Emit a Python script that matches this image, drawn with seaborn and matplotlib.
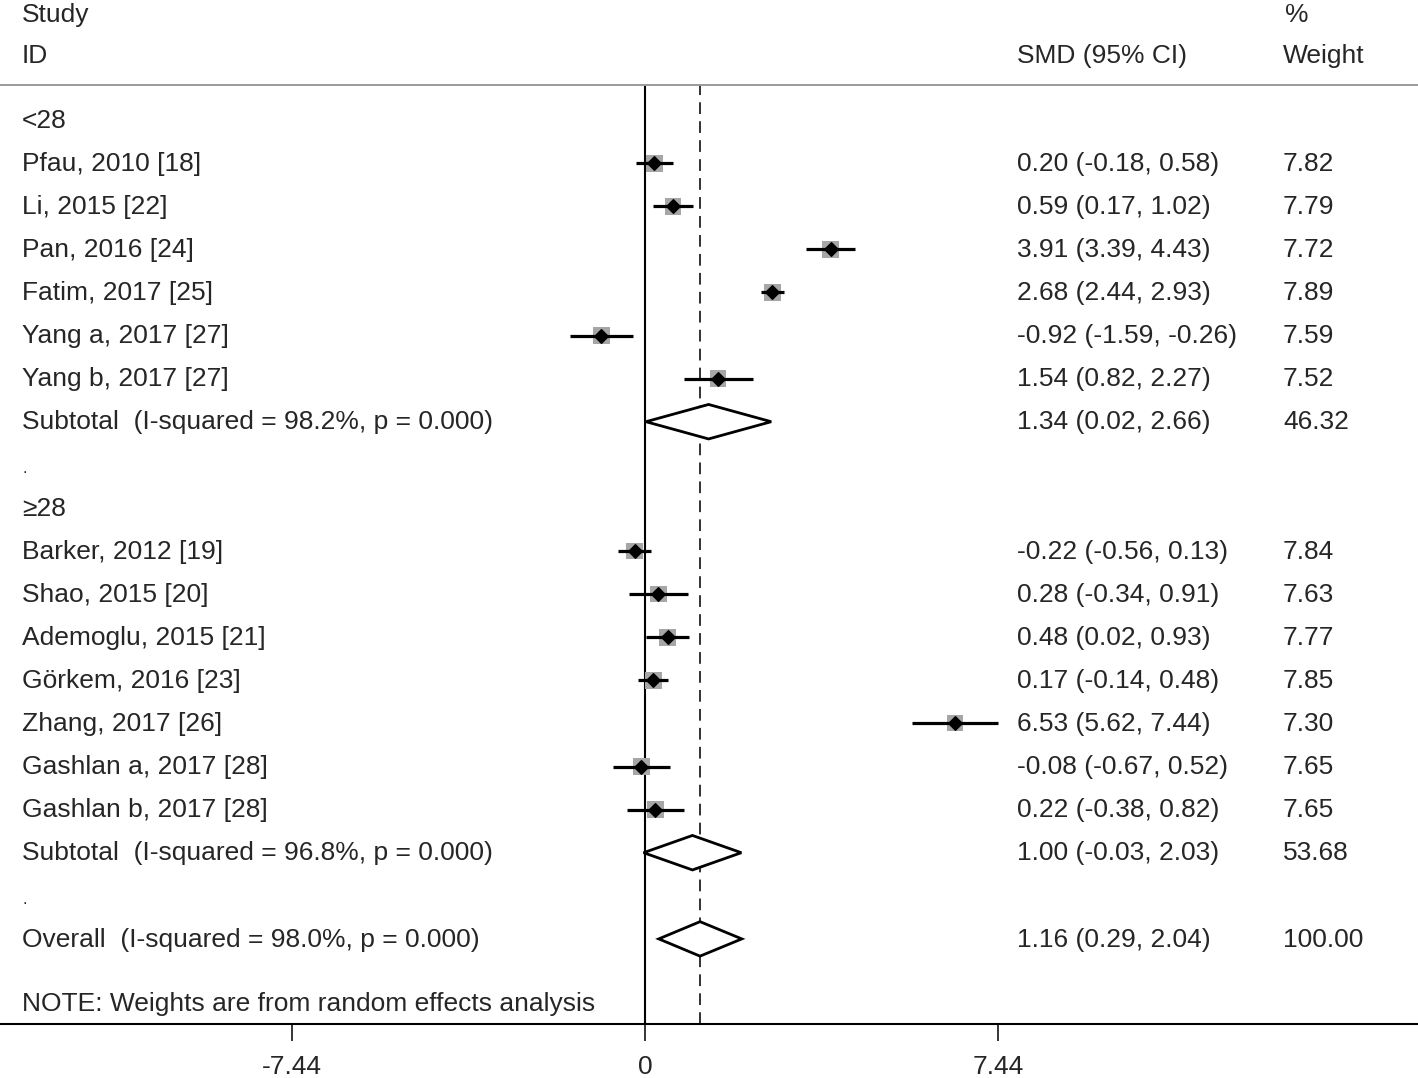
import numpy as np
import pandas as pd
import matplotlib.pyplot as plt
import seaborn as sns

# study-level data
groups = ["<28", "≥28"]
studies_lt28 = ["Pfau, 2010 [18]", "Li, 2015 [22]", "Pan, 2016 [24]", "Fatim, 2017 [25]",
                "Yang a, 2017 [27]", "Yang b, 2017 [27]"]
smd_lt28 = [0.20, 0.59, 3.91, 2.68, -0.92, 1.54]
lo_lt28 = [-0.18, 0.17, 3.39, 2.44, -1.59, 0.82]
hi_lt28 = [0.58, 1.02, 4.43, 2.93, -0.26, 2.27]
w_lt28 = [7.82, 7.79, 7.72, 7.89, 7.59, 7.52]

studies_ge28 = ["Barker, 2012 [19]", "Shao, 2015 [20]", "Ademoglu, 2015 [21]", "Görkem, 2016 [23]",
                "Zhang, 2017 [26]", "Gashlan a, 2017 [28]", "Gashlan b, 2017 [28]"]
smd_ge28 = [-0.22, 0.28, 0.48, 0.17, 6.53, -0.08, 0.22]
lo_ge28 = [-0.56, -0.34, 0.02, -0.14, 5.62, -0.67, -0.38]
hi_ge28 = [0.13, 0.91, 0.93, 0.48, 7.44, 0.52, 0.82]
w_ge28 = [7.84, 7.63, 7.77, 7.85, 7.30, 7.65, 7.65]

subtotal_labels = ["Subtotal  (I-squared = 98.2%, p = 0.000)", "Subtotal  (I-squared = 96.8%, p = 0.000)"]
subtotal_smd = [1.34, 1.00]
subtotal_lo = [0.02, -0.03]
subtotal_hi = [2.66, 2.03]
subtotal_w = [46.32, 53.68]

overall_label = "Overall  (I-squared = 98.0%, p = 0.000)"
overall_smd, overall_lo, overall_hi, overall_w = 1.16, 0.29, 2.04, 100.00

tick_vals = [-7.44, 0, 7.44]
tick_labels = ["-7.44", "0", "7.44"]

# build rows
rows = []
r = 0
rows.append(dict(row=r, kind="group", label=groups[0])); r += 1
for s, m, l, h, w in zip(studies_lt28, smd_lt28, lo_lt28, hi_lt28, w_lt28):
    rows.append(dict(row=r, kind="study", label=s, smd=m, lo=l, hi=h, w=w)); r += 1
rows.append(dict(row=r, kind="sub", label=subtotal_labels[0], smd=subtotal_smd[0],
                 lo=subtotal_lo[0], hi=subtotal_hi[0], w=subtotal_w[0])); r += 1
rows.append(dict(row=r, kind="blank", label=".")); r += 1
rows.append(dict(row=r, kind="group", label=groups[1])); r += 1
for s, m, l, h, w in zip(studies_ge28, smd_ge28, lo_ge28, hi_ge28, w_ge28):
    rows.append(dict(row=r, kind="study", label=s, smd=m, lo=l, hi=h, w=w)); r += 1
rows.append(dict(row=r, kind="sub", label=subtotal_labels[1], smd=subtotal_smd[1],
                 lo=subtotal_lo[1], hi=subtotal_hi[1], w=subtotal_w[1])); r += 1
rows.append(dict(row=r, kind="blank", label=".")); r += 1
rows.append(dict(row=r, kind="overall", label=overall_label, smd=overall_smd,
                 lo=overall_lo, hi=overall_hi, w=overall_w)); r += 1
df = pd.DataFrame(rows)
studies = df[df["kind"] == "study"]

sns.set_style("white")
plt.rcParams["font.family"] = ["Liberation Sans", "DejaVu Sans"]
FS = 19

W, H = 1418, 1078
fig = plt.figure(figsize=(W / 100, H / 100), dpi=100)
ax_top, ax_bot = 85, 1024
ax = fig.add_axes([0, 1 - ax_bot / H, 1, (ax_bot - ax_top) / H])

zero_px, scale = 645, 47.45
row0_px, row_h = 120, 43.1
ax.set_xlim(-zero_px / scale, (W - zero_px) / scale)
ax.set_ylim((ax_bot - row0_px) / row_h, (ax_top - row0_px) / row_h)

# reference lines
ax.axvline(0, color="black", lw=1.5, zorder=1)
ax.axvline(overall_smd, color="#222222", lw=1.3, ls=(0, (6.5, 4)), zorder=1)

# CIs and markers
ax.hlines(studies["row"], studies["lo"], studies["hi"], color="black", lw=2.3, zorder=3)
sns.scatterplot(data=studies, x="smd", y="row", size="w", sizes=(135, 150), marker="s",
                color="#a6a6a6", edgecolor="none", legend=False, ax=ax, zorder=2)
ax.scatter(studies["smd"], studies["row"], marker="D", s=48, color="black", zorder=4)

# diamonds
for _, d in df[df["kind"].isin(["sub", "overall"])].iterrows():
    hh = 0.4
    ax.fill([d["lo"], d["smd"], d["hi"], d["smd"]],
            [d["row"], d["row"] - hh, d["row"], d["row"] + hh],
            facecolor="white", edgecolor="black", lw=2, zorder=3)

# text columns (x in axes fraction)
tr = ax.get_yaxis_transform()
x_lab, x_smd, x_w = 22 / W, 1017 / W, 1283 / W
base = 0.18
for _, d in df.iterrows():
    ax.text(x_lab, d["row"] + base, d["label"], transform=tr, fontsize=FS if d["kind"] != "blank" else 12,
            va="baseline", ha="left")
    if d["kind"] in ("study", "sub", "overall"):
        ax.text(x_smd, d["row"] + base, f"{d['smd']:.2f} ({d['lo']:.2f}, {d['hi']:.2f})",
                transform=tr, fontsize=FS, va="baseline", ha="left")
        ax.text(x_w, d["row"] + base, f"{d['w']:.2f}", transform=tr, fontsize=FS,
                va="baseline", ha="left")

# headers
hdr1, hdr2 = (14 - row0_px) / row_h, (55 - row0_px) / row_h
ax.text(x_lab, hdr1 + base, "Study", transform=tr, fontsize=FS, va="baseline", clip_on=False)
ax.text(x_lab, hdr2 + base, "ID", transform=tr, fontsize=FS, va="baseline", clip_on=False)
ax.text(x_smd, hdr2 + base, "SMD (95% CI)", transform=tr, fontsize=FS, va="baseline", clip_on=False)
ax.text(1285 / W, hdr1 + base, "%", transform=tr, fontsize=FS, va="baseline", clip_on=False)
ax.text(x_w, hdr2 + base, "Weight", transform=tr, fontsize=FS, va="baseline", clip_on=False)

ax.text(x_lab, (1003 - row0_px) / row_h + base, "NOTE: Weights are from random effects analysis",
        transform=tr, fontsize=FS, va="baseline")

# axes styling
for side in ["left", "right"]:
    ax.spines[side].set_visible(False)
ax.spines["top"].set_color("#9a9a9a")
ax.spines["top"].set_linewidth(1.4)
ax.spines["bottom"].set_color("black")
ax.spines["bottom"].set_linewidth(1.5)
ax.set_yticks([])
ax.set_xticks(tick_vals)
ax.set_xticklabels(tick_labels, fontsize=FS)
ax.tick_params(axis="x", direction="out", length=12, width=1.3, pad=10, bottom=True)
ax.set_xlabel("")
ax.set_ylabel("")

fig.savefig("out.png", dpi=100)
